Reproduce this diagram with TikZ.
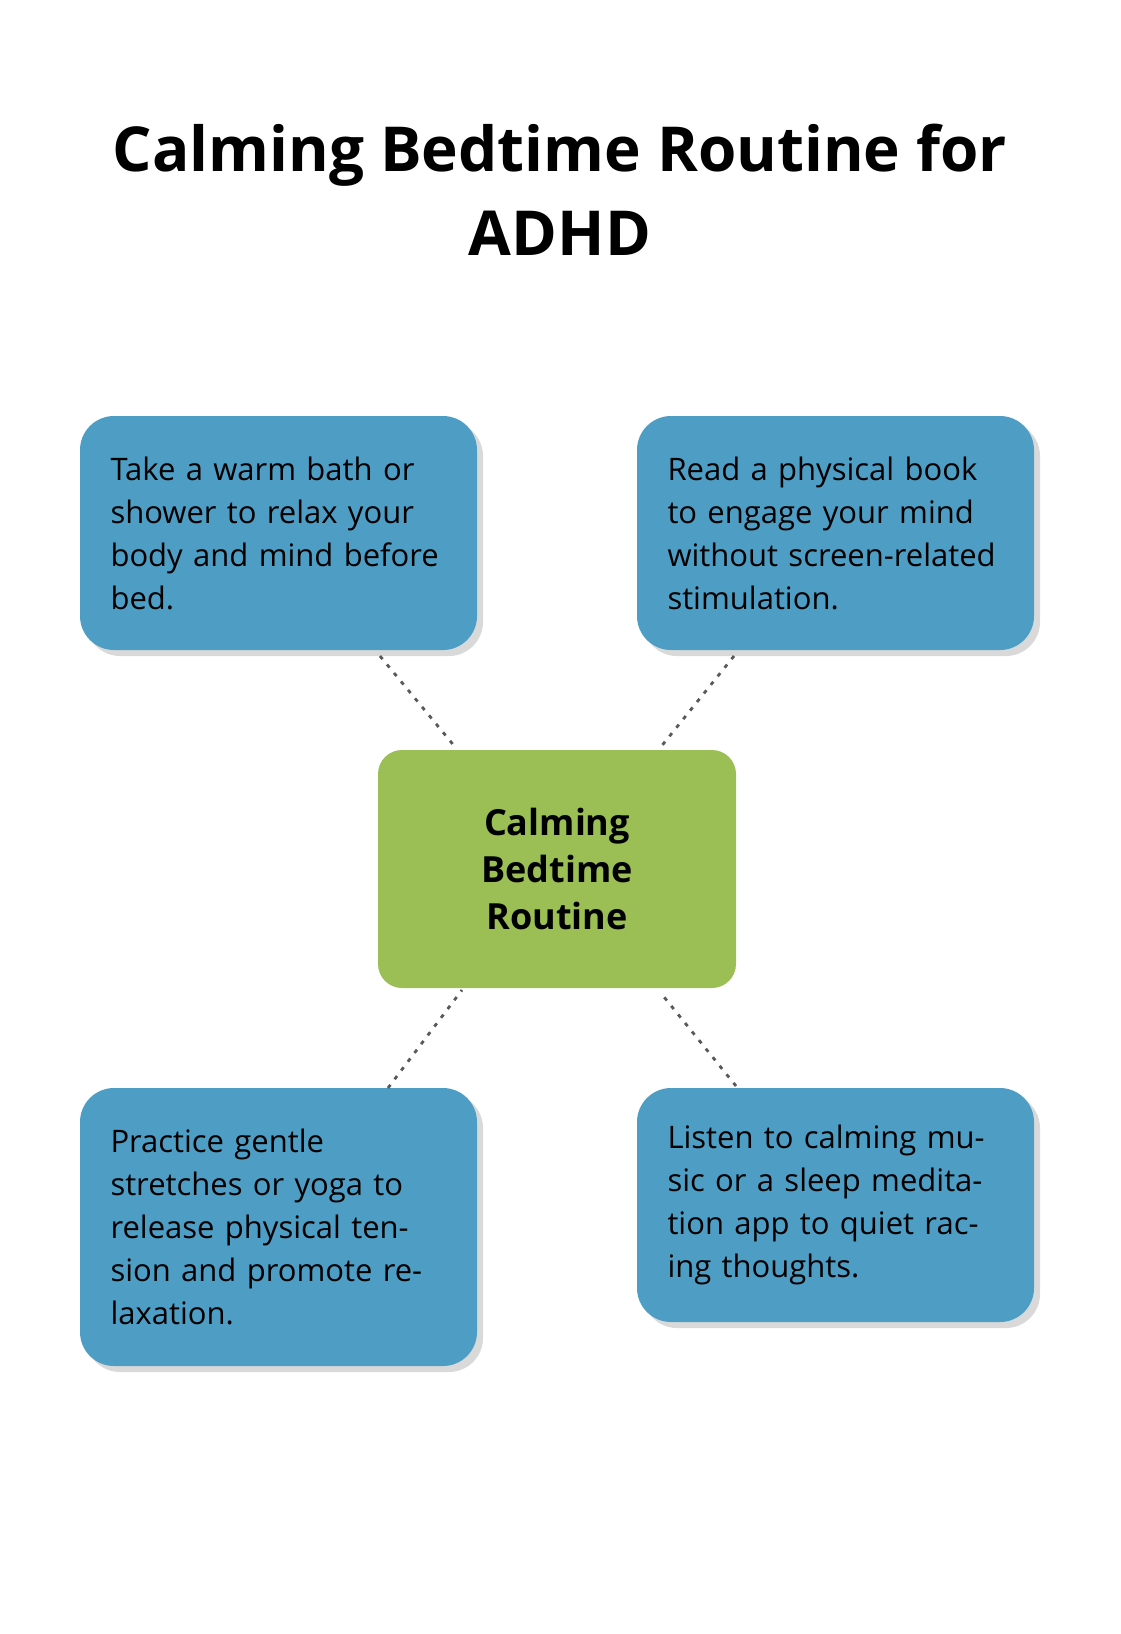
\documentclass[tikz,border=0pt]{standalone}
\usepackage{fontspec}
\setmainfont{Open Sans}
\usetikzlibrary{shadows}
\definecolor{tipblue}{HTML}{4E9DC4}
\definecolor{hubgreen}{HTML}{9BBF55}
\begin{document}
\begin{tikzpicture}[x=0.5pt, y=-0.5pt,
  tip/.style={rectangle, rounded corners=17pt, fill=tipblue, minimum width=198.5pt, minimum height=117pt,
    text width=168pt, align=left, font=\fontsize{15.5}{21.5}\selectfont, drop shadow={opacity=.3, shadow xshift=3pt, shadow yshift=-3pt}},
  hub/.style={rectangle, rounded corners=12pt, fill=hubgreen, minimum width=179pt, minimum height=119pt,
    align=center, font=\bfseries\fontsize{18}{23.5}\selectfont},
  link/.style={draw=black!65, line width=1.4pt, dash pattern=on 2pt off 3.5pt}]
  \useasboundingbox (0,0) rectangle (1120,1634);
  \node (title) at (560,190) [align=center, font=\bfseries\fontsize{31}{42}\selectfont] {Calming Bedtime Routine for\\ADHD};
  \node [tip] (bath) at (278.5,533) {Take a warm bath or shower to relax your body and mind before bed.};
  \node [tip] (book) at (835.5,533) {Read a physical book to engage your mind without screen-related stimulation.};
  \node [tip, minimum height=139pt] (yoga) at (278.5,1227) {Practice gentle stretches or yoga to release physical tension and promote relaxation.};
  \node [tip] (music) at (835.5,1205) {Listen to calming music or a sleep meditation app to quiet racing thoughts.};
  \node [hub] (routine) at (557,869) {Calming\\Bedtime\\Routine};
  % dotted links
  \coordinate (a1) at (380,656); \coordinate (a2) at (456,748);
  \coordinate (b1) at (734,656); \coordinate (b2) at (660,748);
  \coordinate (c1) at (388,1088); \coordinate (c2) at (462,990);
  \coordinate (d1) at (736,1086); \coordinate (d2) at (660,992);
  \draw [link] (a1) -- (a2);
  \draw [link] (b1) -- (b2);
  \draw [link] (c1) -- (c2);
  \draw [link] (d1) -- (d2);
\end{tikzpicture}
\end{document}
